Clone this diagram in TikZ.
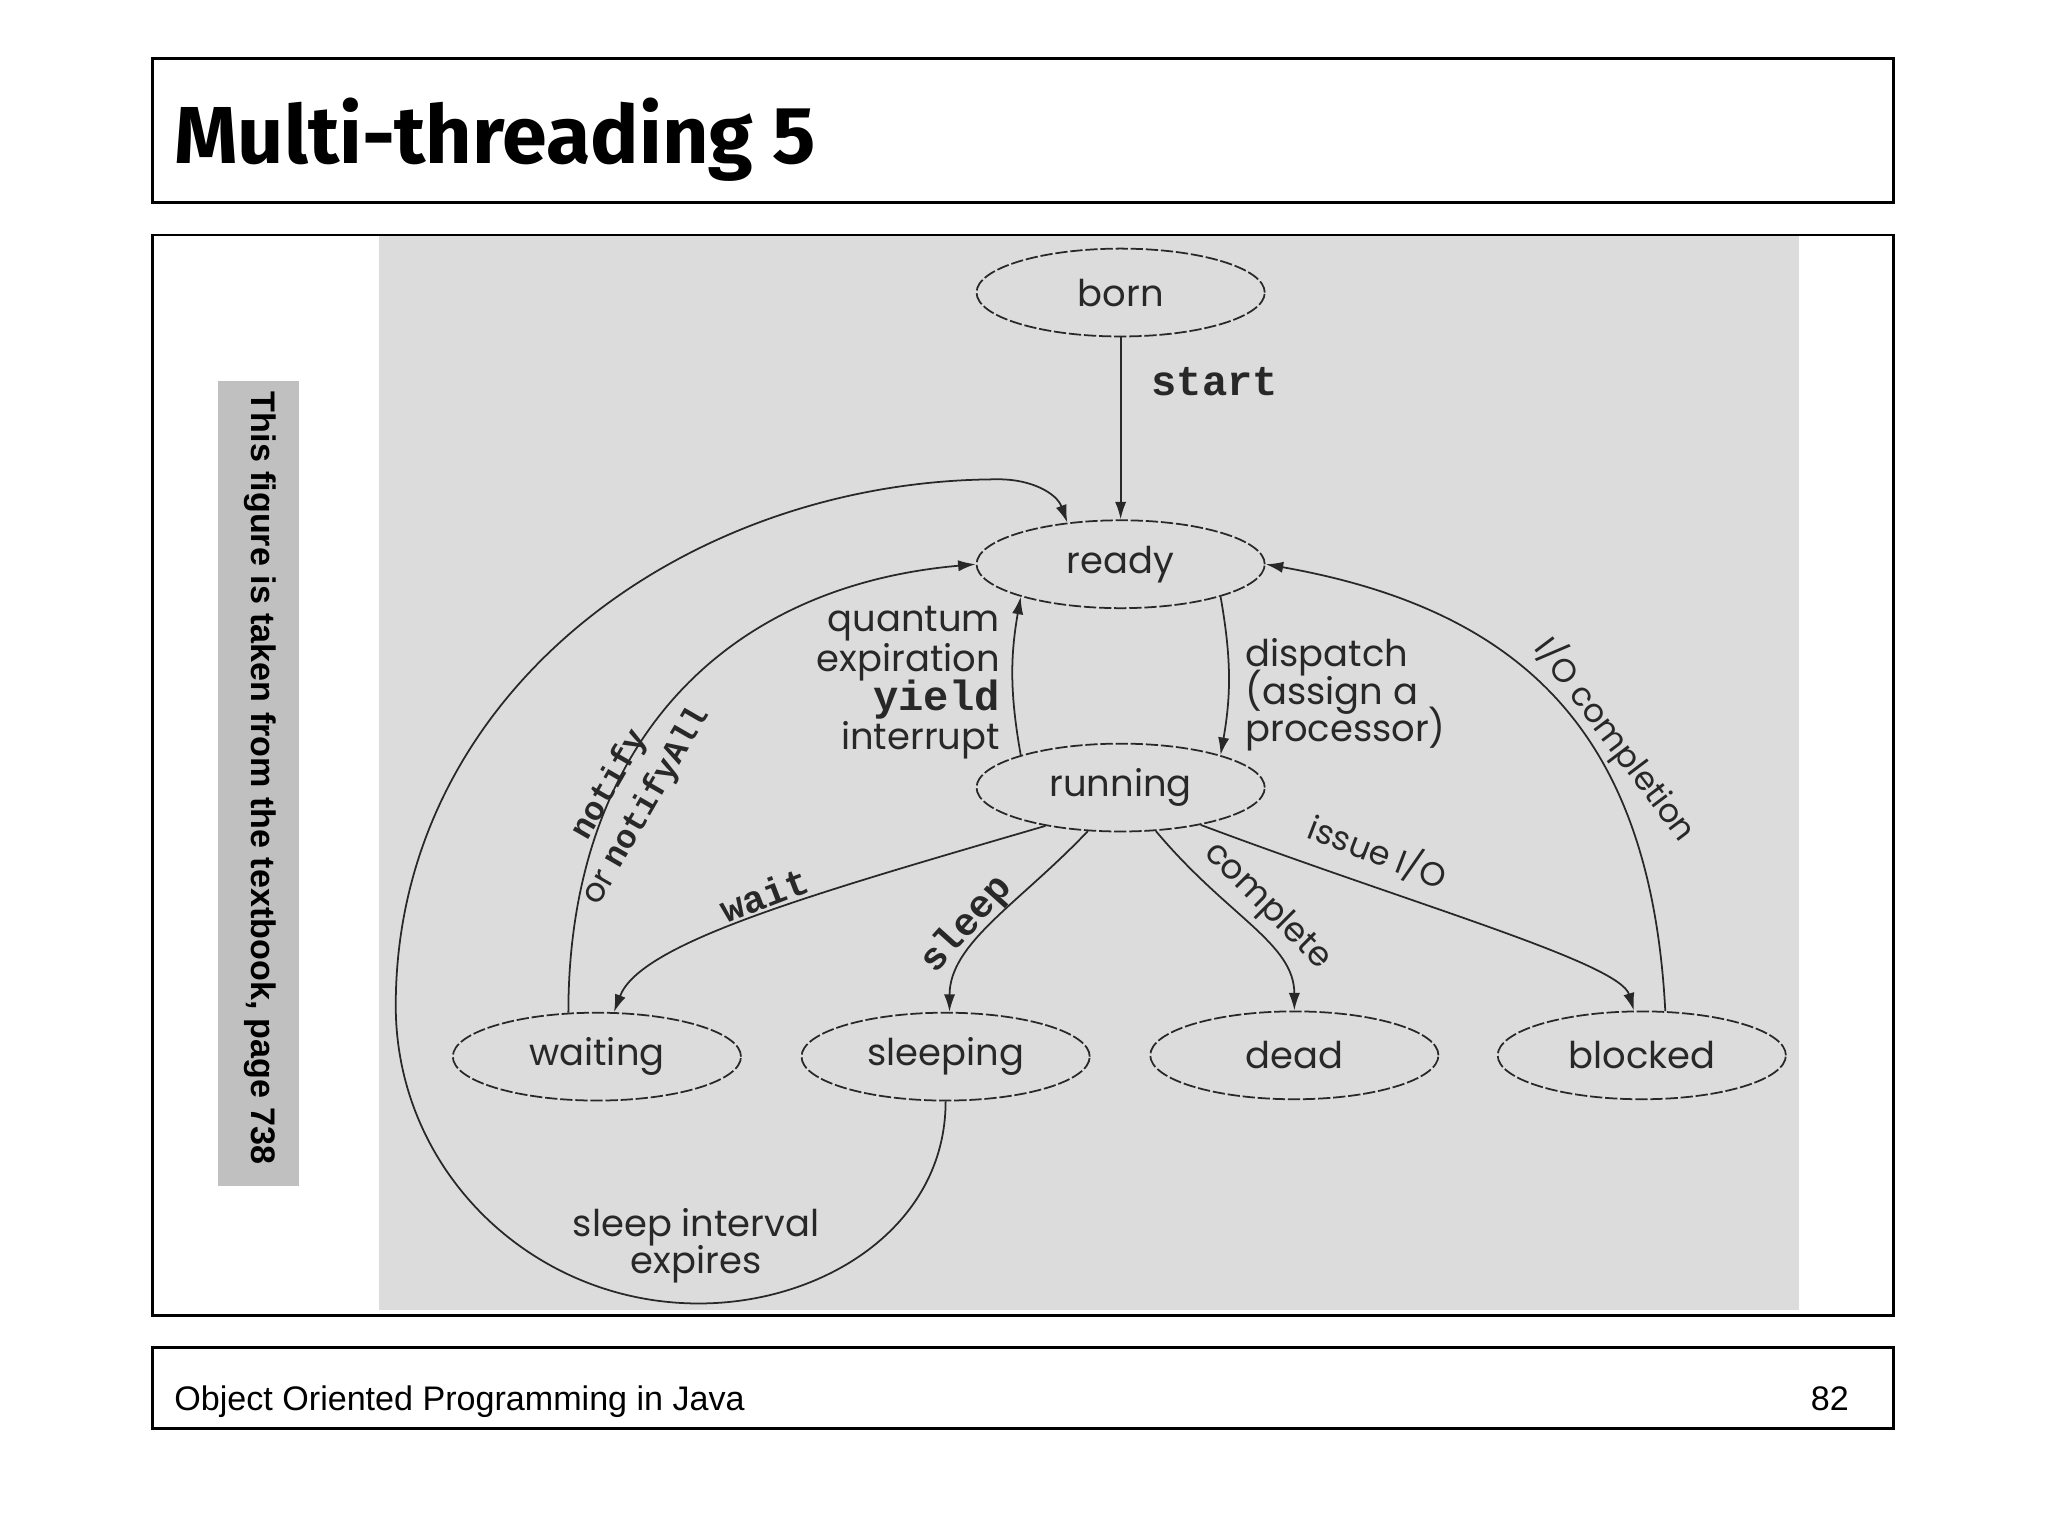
\documentclass[tikz,border=0pt]{standalone}
\usepackage{fontspec}
\setmainfont{Liberation Sans}
\setmonofont{Liberation Mono}
\newfontfamily\titlefont{Fira Sans}
\newfontfamily\figfont{Poppins}
\usetikzlibrary{positioning,arrows.meta,shapes.geometric}

\definecolor{scan}{RGB}{220,220,220}
\definecolor{sidebar}{RGB}{192,192,192}
\definecolor{ink}{RGB}{40,40,40}

% fixed line spacing for the tall Poppins glyphs
\newcommand\fixedlines{\lineskiplimit=-50pt\relax}

\tikzset{
  state/.style={ellipse, draw=ink, line width=0.5pt, dash pattern=on 3.5pt off 0.8pt,
    minimum width=82pt, minimum height=25pt, inner sep=0pt,
    font=\figfont\fontsize{10.5}{12}\selectfont, text=ink},
  trans/.style={draw=ink, line width=0.5pt, -{Latex[length=5pt,width=3.2pt]}},
  txt/.style={font=\figfont\fontsize{10.5}{10.6}\selectfont\fixedlines, text=ink, inner sep=0pt},
  code/.style={font=\ttfamily\bfseries\fontsize{12}{13}\selectfont, text=ink, inner sep=0pt},
  frame/.style={draw=black, line width=0.8pt},
}

\begin{document}
\begin{tikzpicture}[x=0.13061mm, y=0.13061mm]
  \useasboundingbox (0,0) rectangle (1568,1176);
  \fill[white] (0,0) rectangle (1568,1176);

  % slide frames
  \draw[frame] (117,1021) rectangle (1450,1131);
  \node[anchor=base west, inner sep=0pt, font=\titlefont\bfseries\fontsize{23}{27}\selectfont] (title) at (133,1051) {Multi-threading 5};
  \draw[frame] (117,169) rectangle (1450,996);
  \fill[scan] (290,173) rectangle (1377,995);
  \fill[sidebar] (167,268) rectangle (229,884);
  \node[rotate=-90, inner sep=0pt, font=\bfseries\fontsize{9.7}{11}\selectfont] (source) at (199,580) {This figure is taken from the textbook, page 738};
  \draw[frame] (117,82) rectangle (1450,144);
  \node[anchor=base west, inner sep=0pt, font=\fontsize{9.7}{12}\selectfont] (course) at (133,96) {Object Oriented Programming in Java};
  \node[anchor=base east, inner sep=0pt, font=\fontsize{9.7}{12}\selectfont] (pageno) at (1416,96) {82};

  % states
  \node[state] (born) at (858,952) {born};
  \node[state] (ready) at (858,744) {ready};
  \node[state] (running) at (858,573) {running};
  \node[state] (waiting) at (457,367) {waiting};
  \node[state] (sleeping) at (724,367) {sleeping};
  \node[state] (dead) at (991,368) {dead};
  \node[state] (blocked) at (1257,368) {blocked};

  % loop points
  \coordinate (loopbottom) at (535,178);
  \coordinate (loopleft) at (303,406);
  \coordinate (looptop) at (765,809);

  % transitions
  \draw[trans] (born) -- (ready);
  \draw[trans] (ready.-18) to[out=-80, in=80] (running.18);
  \draw[trans] (running.162) to[out=100, in=-100] (ready.-162);
  \draw[trans] (running.207) .. controls (620,491) and (490,454) .. (waiting.69);
  \draw[trans] (running.233) .. controls (780,484) and (727,454) .. (sleeping.85);
  \draw[trans] (running.-51) .. controls (940,474) and (991,454) .. (dead.north);
  \draw[trans] (running.-25) .. controls (1080,484) and (1240,439) .. (blocked.100);
  \draw[trans] (blocked.62) to[out=93, in=-10, looseness=1.15] (ready.east);
  \draw[trans] (waiting.123) to[out=90, in=185, looseness=1.1] (ready.west);
  \draw[trans] (sleeping.south) to[out=-90, in=0] (loopbottom)
    to[out=180, in=-90] (loopleft) to[out=90, in=180] (looptop)
    to[out=0, in=110] (ready.142);

  % labels
  \node[code] (lstart) at (930,884) {start};
  \node[txt, font=\figfont\fontsize{10.5}{11.2}\selectfont\fixedlines, anchor=east, align=right] (lquantum) at (766,653)
    {quantum\\expiration\\{\ttfamily\bfseries\fontsize{12}{11.2}\selectfont yield}\\interrupt};
  \node[txt, anchor=west, align=left] (ldispatch) at (953,644) {dispatch\\(assign a\\processor)};
  \node[code, font=\ttfamily\bfseries\fontsize{10.8}{12}\selectfont, rotate=21] (lwait) at (585,491) {wait};
  \node[code, font=\ttfamily\bfseries\fontsize{11}{12}\selectfont, rotate=48] (lsleep) at (740,468) {sleep};
  \node[txt, font=\figfont\fontsize{9.7}{10}\selectfont, rotate=-45] (lcomplete) at (970,482) {complete};
  \node[txt, font=\figfont\fontsize{9.5}{10}\selectfont, rotate=-21] (lissue) at (1055,524) {issue I/O};
  \node[txt, font=\figfont\fontsize{9.3}{10}\selectfont, rotate=-53] (lio) at (1237,610) {I/O completion};
  \node[txt, font=\figfont\fontsize{9.5}{12}\selectfont, rotate=60, align=center] (lnotify) at (481,567)
    {{\ttfamily\bfseries notify}\\or {\ttfamily\bfseries notifyAll}};
  \node[txt, align=center] (linterval) at (533,222) {sleep interval\\expires};

\end{tikzpicture}
\end{document}
